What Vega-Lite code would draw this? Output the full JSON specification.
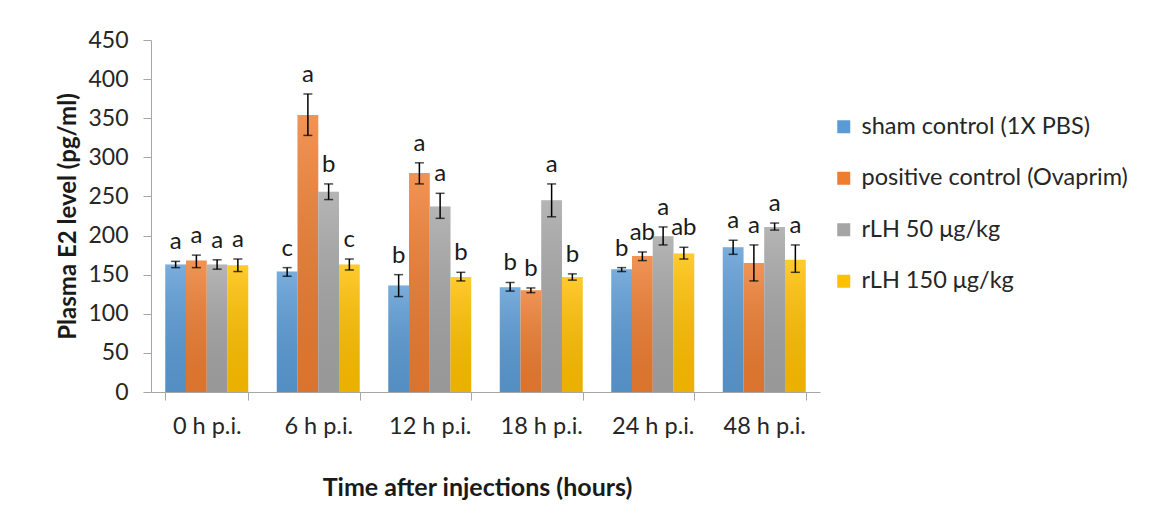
{
  "$schema": "https://vega.github.io/schema/vega-lite/v6.json",
  "width": 669,
  "height": 352,
  "autosize": "none",
  "padding": {"left": 151, "top": 40, "right": 343, "bottom": 121},
  "background": "white",
  "config": {
    "view": {"stroke": null},
    "font": "Lato",
    "axisY": {
      "titleFontSize": 24,
      "titleFontWeight": "bold",
      "titleColor": "#1a1a1a",
      "titlePadding": 7,
      "labelOverlap": false,
      "labelFontSize": 23,
      "labelColor": "#262626",
      "labelPadding": 15,
      "tickSize": 8,
      "tickColor": "#A6A6A6",
      "domainColor": "#A6A6A6",
      "grid": false
    }
  },
  "data": {
    "values": [
      {"time": "0 h p.i.", "group": "sham control (1X PBS)", "mean": 163, "lo": 159, "hi": 167, "letter": "a"},
      {"time": "0 h p.i.", "group": "positive control (Ovaprim)", "mean": 168, "lo": 159, "hi": 175, "letter": "a"},
      {"time": "0 h p.i.", "group": "rLH 50 μg/kg", "mean": 163, "lo": 157, "hi": 169, "letter": "a"},
      {"time": "0 h p.i.", "group": "rLH 150 μg/kg", "mean": 162, "lo": 154, "hi": 170, "letter": "a"},
      {"time": "6 h p.i.", "group": "sham control (1X PBS)", "mean": 154, "lo": 148, "hi": 159, "letter": "c"},
      {"time": "6 h p.i.", "group": "positive control (Ovaprim)", "mean": 354, "lo": 328, "hi": 381, "letter": "a"},
      {"time": "6 h p.i.", "group": "rLH 50 μg/kg", "mean": 256, "lo": 246, "hi": 266, "letter": "b"},
      {"time": "6 h p.i.", "group": "rLH 150 μg/kg", "mean": 163, "lo": 156, "hi": 170, "letter": "c"},
      {"time": "12 h p.i.", "group": "sham control (1X PBS)", "mean": 136, "lo": 122, "hi": 150, "letter": "b"},
      {"time": "12 h p.i.", "group": "positive control (Ovaprim)", "mean": 280, "lo": 266, "hi": 293, "letter": "a"},
      {"time": "12 h p.i.", "group": "rLH 50 μg/kg", "mean": 237, "lo": 222, "hi": 254, "letter": "a"},
      {"time": "12 h p.i.", "group": "rLH 150 μg/kg", "mean": 147, "lo": 142, "hi": 153, "letter": "b"},
      {"time": "18 h p.i.", "group": "sham control (1X PBS)", "mean": 134, "lo": 129, "hi": 140, "letter": "b"},
      {"time": "18 h p.i.", "group": "positive control (Ovaprim)", "mean": 130, "lo": 127, "hi": 133, "letter": "b"},
      {"time": "18 h p.i.", "group": "rLH 50 μg/kg", "mean": 245, "lo": 224, "hi": 266, "letter": "a"},
      {"time": "18 h p.i.", "group": "rLH 150 μg/kg", "mean": 147, "lo": 143, "hi": 151, "letter": "b"},
      {"time": "24 h p.i.", "group": "sham control (1X PBS)", "mean": 157, "lo": 154, "hi": 159, "letter": "b"},
      {"time": "24 h p.i.", "group": "positive control (Ovaprim)", "mean": 174, "lo": 168, "hi": 179, "letter": "ab"},
      {"time": "24 h p.i.", "group": "rLH 50 μg/kg", "mean": 199, "lo": 188, "hi": 211, "letter": "a"},
      {"time": "24 h p.i.", "group": "rLH 150 μg/kg", "mean": 177, "lo": 170, "hi": 185, "letter": "ab"},
      {"time": "48 h p.i.", "group": "sham control (1X PBS)", "mean": 185, "lo": 176, "hi": 194, "letter": "a"},
      {"time": "48 h p.i.", "group": "positive control (Ovaprim)", "mean": 165, "lo": 142, "hi": 188, "letter": "a"},
      {"time": "48 h p.i.", "group": "rLH 50 μg/kg", "mean": 211, "lo": 207, "hi": 216, "letter": "a"},
      {"time": "48 h p.i.", "group": "rLH 150 μg/kg", "mean": 169, "lo": 153, "hi": 188, "letter": "a"}
    ]
  },
  "encoding": {
    "x": {
      "field": "time",
      "type": "nominal",
      "sort": ["0 h p.i.", "6 h p.i.", "12 h p.i.", "18 h p.i.", "24 h p.i.", "48 h p.i."],
      "scale": {"paddingInner": 0.256, "paddingOuter": 0.128},
      "axis": {
        "title": "Time after injections (hours)",
        "titleX": 326,
        "titleFontSize": 25,
        "titleFontWeight": "bold",
        "titleColor": "#1a1a1a",
        "titlePadding": 38,
        "labelAngle": 0,
        "labelFontSize": 23.5,
        "labelColor": "#262626",
        "labelPadding": 14,
        "tickBand": "extent",
        "tickSize": 8,
        "tickColor": "#A6A6A6",
        "domainColor": "#A6A6A6",
        "grid": false
      }
    },
    "xOffset": {
      "field": "group",
      "type": "nominal",
      "sort": ["sham control (1X PBS)", "positive control (Ovaprim)", "rLH 50 μg/kg", "rLH 150 μg/kg"],
      "scale": {"paddingInner": 0, "paddingOuter": 0}
    }
  },
  "layer": [
    {
      "mark": {"type": "bar"},
      "encoding": {
        "y": {
          "field": "mean",
          "type": "quantitative",
          "scale": {"domain": [0, 450]},
          "axis": {"title": "Plasma E2 level (pg/ml)", "values": [0, 50, 100, 150, 200, 250, 300, 350, 400, 450]}
        },
        "color": {
          "field": "group",
          "type": "nominal",
          "scale": {
            "domain": ["sham control (1X PBS)", "positive control (Ovaprim)", "rLH 50 μg/kg", "rLH 150 μg/kg"],
            "range": ["#5B9BD5", "#ED7D31", "#A5A5A5", "#FFC000"]
          },
          "legend": {
            "orient": "none",
            "legendX": 681,
            "legendY": 75,
            "title": null,
            "symbolType": "square",
            "symbolSize": 169,
            "symbolStrokeWidth": 0,
            "labelFontSize": 23.5,
            "labelColor": "#262626",
            "labelOffset": 6,
            "rowPadding": 26.5,
            "labelLimit": 400
          }
        }
      }
    },
    {
      "mark": {
        "type": "bar",
        "fill": {
          "gradient": "linear",
          "x1": 0, "y1": 0, "x2": 0, "y2": 1,
          "stops": [
            {"offset": 0, "color": "rgba(255,255,255,0.18)"},
            {"offset": 1, "color": "rgba(0,0,0,0.08)"}
          ]
        }
      },
      "encoding": {
        "y": {"field": "mean", "type": "quantitative", "axis": {"title": "Plasma E2 level (pg/ml)", "values": [0, 50, 100, 150, 200, 250, 300, 350, 400, 450]}}
      }
    },
    {
      "mark": {"type": "rule", "color": "#000000", "strokeWidth": 1.5},
      "encoding": {
        "y": {"field": "lo", "type": "quantitative", "axis": {"title": "Plasma E2 level (pg/ml)", "values": [0, 50, 100, 150, 200, 250, 300, 350, 400, 450]}},
        "y2": {"field": "hi"}
      }
    },
    {
      "mark": {"type": "tick", "color": "#000000", "thickness": 1.5, "size": 9, "orient": "horizontal"},
      "encoding": {
        "y": {"field": "hi", "type": "quantitative", "axis": {"title": "Plasma E2 level (pg/ml)", "values": [0, 50, 100, 150, 200, 250, 300, 350, 400, 450]}}
      }
    },
    {
      "mark": {"type": "tick", "color": "#000000", "thickness": 1.5, "size": 9, "orient": "horizontal"},
      "encoding": {
        "y": {"field": "lo", "type": "quantitative", "axis": {"title": "Plasma E2 level (pg/ml)", "values": [0, 50, 100, 150, 200, 250, 300, 350, 400, 450]}}
      }
    },
    {
      "mark": {"type": "text", "fontSize": 24, "dy": -12, "baseline": "alphabetic", "color": "#1a1a1a"},
      "encoding": {
        "y": {"field": "hi", "type": "quantitative", "axis": {"title": "Plasma E2 level (pg/ml)", "values": [0, 50, 100, 150, 200, 250, 300, 350, 400, 450]}},
        "text": {"field": "letter"}
      }
    }
  ]
}
